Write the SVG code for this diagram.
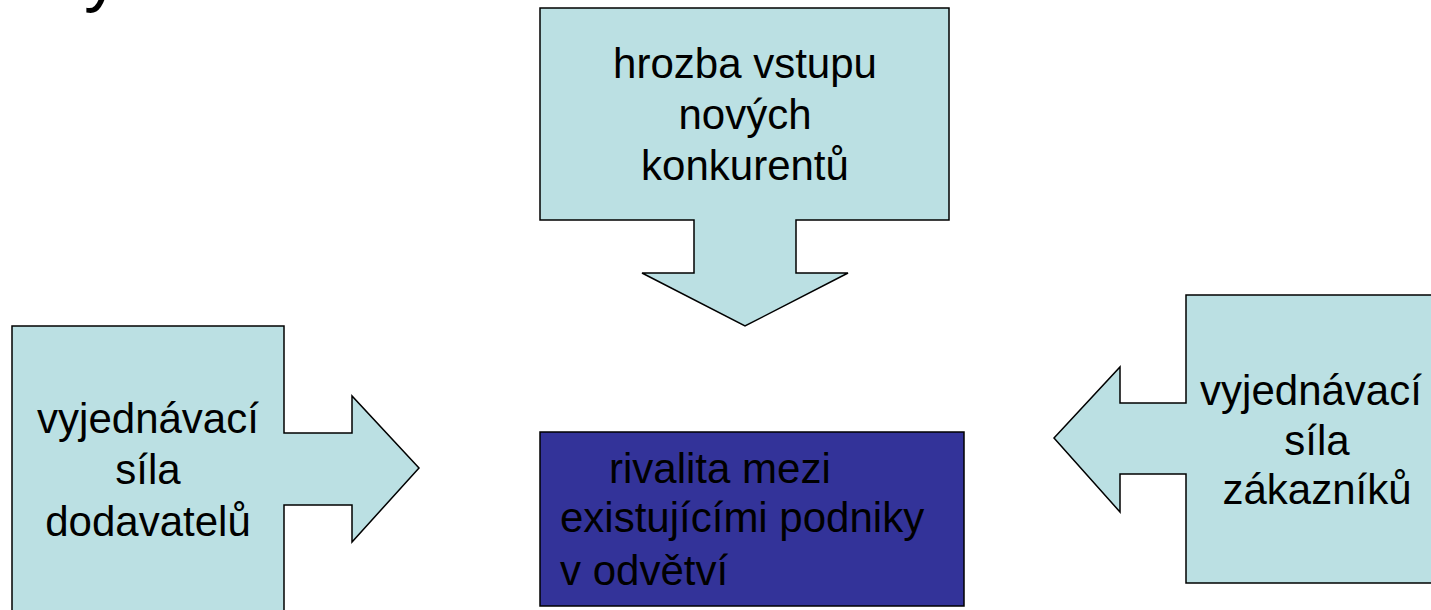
<svg xmlns="http://www.w3.org/2000/svg" width="1431" height="610" viewBox="0 0 1431 610">
<style>
.c{fill:#BBE0E3;stroke:#000;stroke-width:1.5}
.t{font-family:"Liberation Sans",Arial,sans-serif;font-size:42px;fill:#000}
.m{text-anchor:middle}
</style>
<rect width="1431" height="610" fill="#fff"/>
<text class="t" x="84" y="-2" style="font-size:72px">y</text>
<g id="connectors"></g>
<g id="top">
<path class="c" d="M540,8 H949 V220 H796 V273 H848 L745,326 L642,273 H694 V220 H540 Z"/>
<text class="t m" x="745" y="78">hrozba vstupu</text>
<text class="t m" x="745" y="129">nových</text>
<text class="t m" x="745" y="180">konkurentů</text>
</g>
<g id="left">
<path class="c" d="M12,326 H284 V433 H352 V396 L419,468 L352,542 V505 H284 V620 H12 Z"/>
<text class="t m" x="148" y="433">vyjednávací</text>
<text class="t m" x="148" y="484">síla</text>
<text class="t m" x="148" y="536">dodavatelů</text>
</g>
<g id="right">
<path class="c" d="M1186,295 H1440 V583 H1186 V474 H1120 V512 L1054,438 L1120,367 V403 H1186 Z"/>
<text class="t m" x="1311" y="405">vyjednávací</text>
<text class="t m" x="1317" y="455">síla</text>
<text class="t m" x="1317" y="504">zákazníků</text>
</g>
<g id="center">
<rect x="540" y="432" width="424" height="174" fill="#333399" stroke="#000" stroke-width="1.5"/>
<text class="t" x="609" y="483">rivalita mezi</text>
<text class="t" x="560" y="532">existujícími podniky</text>
<text class="t" x="560" y="585">v odvětví</text>
</g>
</svg>
